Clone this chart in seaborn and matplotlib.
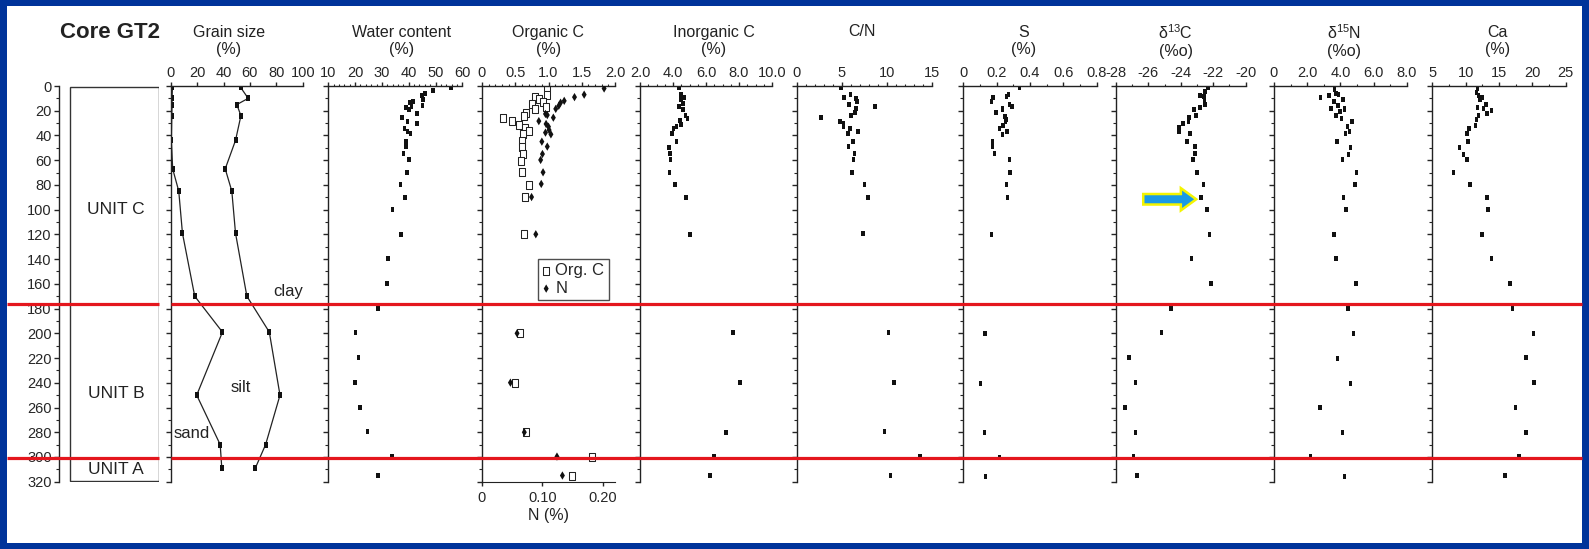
import matplotlib
matplotlib.use("Agg")
import matplotlib.pyplot as plt
import matplotlib.transforms as mtransforms
import seaborn as sns
from matplotlib.lines import Line2D
from matplotlib.markers import MarkerStyle
from matplotlib.patches import Rectangle, FancyArrow
from matplotlib.path import Path
from matplotlib.ticker import MultipleLocator, FixedLocator, FixedFormatter

# ---- data (depth in cm) ----
grain_depth = [1, 10, 15, 24, 44, 67, 85, 119, 170, 199, 250, 290, 309]
sand = [1.3, 1.0, 1.0, 0.8, 0.5, 1.5, 6.1, 8.9, 18.2, 39.2, 19.7, 37.5, 38.7]
sand_silt = [52.9, 58.7, 50.1, 53.2, 49.1, 41.3, 46.3, 49.1, 57.7, 74.7, 82.8, 71.9, 64.1]

water_depth = [1.3, 3.8, 5.9, 7.5, 10.8, 12.4, 13.5, 15.6, 16.7, 17.3, 19.4, 22.1, 25.6, 28.8, 30.7, 34.2,
               36.4, 38.3, 44.7, 49, 54.4, 59.8, 69.8, 79.8, 89.8, 99.7, 119.7, 139.6, 159.8, 179.8, 199.5,
               219.7, 239.9, 259.6, 279.8, 299.7, 314.8]
water = [55.7, 49.0, 46.1, 45.0, 45.4, 41.5, 40.5, 45.2, 41.1, 39.0, 40.0, 43.0, 37.5, 39.5, 43.0, 38.5,
         39.6, 40.6, 39.0, 38.9, 38.1, 40.0, 39.3, 37.0, 38.6, 34.0, 37.1, 32.2, 31.9, 28.5, 20.1,
         21.2, 19.9, 21.9, 24.7, 33.8, 28.5]

orgc_depth = [1.1, 7.3, 9.2, 10.2, 12.7, 14.6, 16.7, 18.6, 22.1, 24.3, 25.9, 28.6, 31.5, 34.2, 36.7, 39.1,
              44.5, 49, 54.7, 60.4, 69.8, 79.8, 89.8, 119.9, 200, 239.9, 280, 300, 315]
orgc = [0.98, 0.98, 0.79, 0.85, 0.91, 0.75, 0.96, 0.79, 0.66, 0.63, 0.31, 0.45, 0.55, 0.65, 0.71, 0.62,
        0.60, 0.60, 0.62, 0.59, 0.60, 0.71, 0.64, 0.63, 0.57, 0.50, 0.66, 1.66, 1.36]

n_depth = [2, 7, 9, 12, 13.5, 16, 18.5, 22.6, 23.5, 25.6, 28.4, 30.7, 32.9, 35.6, 37.7, 39.1, 45, 49, 55,
           59.8, 69.8, 79.2, 89.8, 119.9, 200, 239.9, 280, 299.7, 315]
nitrogen = [0.202, 0.169, 0.153, 0.136, 0.130, 0.127, 0.122, 0.105, 0.108, 0.118, 0.094, 0.106, 0.110,
            0.111, 0.105, 0.114, 0.099, 0.108, 0.100, 0.097, 0.101, 0.098, 0.082, 0.089, 0.058, 0.047,
            0.070, 0.124, 0.133]

inorg_depth = [1.3, 6.7, 9.2, 11.3, 14, 16.7, 18.9, 23.5, 25.9, 28.3, 31.3, 32.9, 34.5, 38.8, 45, 49.6,
               54.7, 59.8, 69.8, 79.8, 89.8, 119.7, 199.7, 239.9, 280, 299.7, 315]
inorg = [4.38, 4.47, 4.67, 4.48, 4.61, 4.38, 4.61, 4.75, 4.89, 4.44, 4.50, 4.22, 4.02, 3.94, 4.22, 3.74,
         3.82, 3.86, 3.78, 4.12, 4.79, 5.03, 7.62, 8.06, 7.21, 6.50, 6.24]

cn_depth = [1.3, 6.7, 8.9, 10.2, 12.7, 14.8, 16.4, 18.3, 21.8, 23.7, 25.3, 28.6, 30.5, 32.9, 34.5, 36.7,
            38.5, 44.7, 49.3, 54.4, 59.6, 69.8, 79.8, 89.8, 119.4, 199.5, 239.9, 279.8, 299.7, 314.8]
cn = [4.92, 5.96, 5.26, 6.56, 6.67, 5.81, 8.67, 6.56, 6.48, 6.03, 2.67, 4.81, 5.18, 5.22, 5.89, 6.81,
      5.70, 6.26, 5.74, 6.41, 6.33, 6.15, 7.52, 7.93, 7.34, 10.18, 10.81, 9.74, 13.67, 10.44]

s_depth = [1.3, 6.7, 8.6, 9.2, 12.7, 14.8, 16.7, 18.6, 21.6, 24.3, 26.7, 29.1, 32.1, 34.5, 36.9, 39.1,
           44.5, 49, 54.7, 59.8, 69.8, 79.8, 90, 119.7, 200, 240.4, 280.3, 300.3, 315.4]
sulfur = [0.336, 0.272, 0.260, 0.178, 0.168, 0.276, 0.292, 0.234, 0.196, 0.250, 0.256, 0.252, 0.238,
          0.218, 0.262, 0.234, 0.174, 0.176, 0.186, 0.276, 0.280, 0.260, 0.266, 0.170, 0.130, 0.104,
          0.128, 0.218, 0.134]

d13c_depth = [1.3, 4.6, 7.3, 8.6, 11.3, 14.6, 17.3, 19.4, 23.7, 25.3, 28.6, 30.7, 33.4, 36.4, 38.8, 44.7,
              49.3, 54.7, 59.8, 69.8, 79.8, 90, 99.7, 119.9, 139.6, 159.8, 179.8, 199.7, 219.9, 239.9,
              259.8, 280, 300, 315]
d13c = [-22.31, -22.51, -22.82, -22.59, -22.53, -22.51, -22.82, -23.19, -23.06, -23.50, -23.52, -23.87,
        -24.11, -24.10, -23.42, -23.62, -23.13, -23.13, -23.25, -23.02, -22.61, -22.76, -22.37, -22.24,
        -23.35, -22.14, -24.61, -25.20, -27.18, -26.79, -27.43, -26.79, -26.91, -26.72]

d15n_depth = [3.2, 5.9, 7.0, 7.5, 9.2, 11.3, 12.7, 15.4, 17.8, 18.6, 21, 23.7, 25.9, 28.8, 32.9, 36.7,
              38.8, 44.7, 49.6, 55, 59.8, 69.8, 79.8, 90, 100, 119.9, 139.9, 160.1, 180, 200, 220.2,
              240.4, 260.1, 280.3, 300, 315.4]
d15n = [3.64, 3.74, 3.90, 3.32, 2.81, 4.16, 3.62, 3.86, 3.42, 4.26, 3.98, 3.74, 4.08, 4.72, 4.44, 4.56,
        4.32, 3.80, 4.62, 4.50, 4.12, 4.98, 4.88, 4.18, 4.34, 3.62, 3.74, 4.94, 4.46, 4.80, 3.82,
        4.62, 2.77, 4.12, 2.19, 4.24]

ca_depth = [1.9, 5.4, 7.3, 9.2, 11.3, 14.8, 17.3, 18.1, 19.9, 22.1, 24, 26.7, 32.3, 34.5, 38.3, 44.7,
            49.6, 55, 59.8, 69.8, 79.8, 90, 100, 119.9, 139.9, 160.1, 180, 200, 219.7, 239.9, 259.8,
            280, 299.7, 315]
ca = [11.75, 11.60, 11.95, 12.45, 12.15, 13.05, 11.75, 12.65, 13.85, 13.16, 11.90, 11.60, 11.45, 10.50,
      10.20, 10.31, 9.05, 9.65, 10.20, 8.15, 10.61, 13.16, 13.35, 12.45, 13.90, 16.65, 17.05, 20.20,
      19.05, 20.29, 17.50, 19.09, 18.0, 15.90]

unit_bounds = [176.5, 300.5]
unit_names = ["UNIT C", "UNIT B", "UNIT A"]
unit_label_depth = [100, 249, 310]

# ---- style ----
sns.set_style("ticks")
plt.rcParams['font.family'] = ['Liberation Sans', 'DejaVu Sans']
plt.rcParams['mathtext.fontset'] = 'custom'
plt.rcParams['mathtext.rm'] = 'Liberation Sans'
plt.rcParams['mathtext.it'] = 'Liberation Sans'

W, H = 1589, 549
TOP, BOT = 86, 481.7
INK = '#222222'
fig = plt.figure(figsize=(W / 100, H / 100), dpi=100)
fig.patch.set_facecolor('#00339a')
fig.add_artist(Rectangle((7 / W, 6 / H), (1582 - 7) / W, (543 - 6) / H, transform=fig.transFigure,
                         facecolor='white', edgecolor='none', zorder=-5))

rect = MarkerStyle(Path([(-0.36, -0.5), (0.36, -0.5), (0.36, 0.5), (-0.36, 0.5), (-0.36, -0.5)], closed=True))


def make_ax(x0, x1):
    ax = fig.add_axes([x0 / W, 1 - BOT / H, (x1 - x0) / W, (BOT - TOP) / H])
    ax.set_facecolor('none')
    ax.set_ylim(320, 0)
    for sp in ['right', 'bottom']:
        ax.spines[sp].set_visible(False)
    for sp in ['left', 'top']:
        ax.spines[sp].set_linewidth(1.0)
        ax.spines[sp].set_color(INK)
    ax.yaxis.set_major_locator(MultipleLocator(20))
    ax.yaxis.set_minor_locator(MultipleLocator(10))
    ax.tick_params(axis='y', which='major', direction='out', length=3.5, width=1, labelleft=False)
    ax.tick_params(axis='y', which='minor', direction='out', length=2, width=0.8)
    return ax


def top_axis(ax, lim, ticks, labels, minor):
    ax.set_xlim(*lim)
    ax.xaxis.tick_top()
    ax.xaxis.set_major_locator(FixedLocator(ticks))
    ax.xaxis.set_major_formatter(FixedFormatter(labels))
    ax.xaxis.set_minor_locator(MultipleLocator(minor))
    ax.tick_params(axis='x', which='major', direction='out', length=3, width=1, labelsize=10.5, pad=1.5,
                   top=True, bottom=False, labeltop=True, labelbottom=False)
    ax.tick_params(axis='x', which='minor', direction='out', length=1.8, width=0.8, top=True, bottom=False)


def title(ax, text, cx=0.5):
    ax.text(cx, 1.114, text, transform=ax.transAxes, ha='center', va='center', fontsize=11.5,
            linespacing=1.15, color=INK)


def dots(ax, x, y):
    sns.scatterplot(x=x, y=y, ax=ax, marker=rect, s=13, color='#111111', edgecolor='none', linewidth=0)
    ax.set_xlabel('')
    ax.set_ylabel('')


# depth column with units
axd = make_ax(59.3, 159.3)
axd.spines['top'].set_visible(False)
axd.set_xlim(0, 1)
axd.set_xticks([])
axd.yaxis.set_major_locator(FixedLocator(list(range(0, 321, 20))))
axd.tick_params(axis='y', which='major', labelleft=True, labelsize=10.5, pad=2, length=3.5)
axd.add_patch(Rectangle((0.104, 0.8), 0.896, 318.5, facecolor='none', edgecolor='#333333', lw=1.0))
for name, dep in zip(unit_names, unit_label_depth):
    axd.text(0.567, dep, name, ha='center', va='center', fontsize=12.5, color=INK)
fig.text(110 / W, 1 - 32 / H, "Core GT2", ha='center', va='center', fontsize=16, fontweight='bold',
         color=INK)

# grain size
ax = make_ax(170.7, 302.7)
top_axis(ax, (0, 100), [0, 20, 40, 60, 80, 100], ['0', '20', '40', '60', '80', '100'], 20)
for series in [sand, sand_silt]:
    sns.lineplot(x=series, y=grain_depth, ax=ax, sort=False, estimator=None, color=INK, lw=0.9,
                 marker=rect, markersize=4.3, markeredgewidth=0, markerfacecolor='#111111')
ax.set_xlabel('')
ax.set_ylabel('')
ax.text(89, 166, "clay", ha='center', va='center', fontsize=12, color=INK)
ax.text(53, 244, "silt", ha='center', va='center', fontsize=12, color=INK)
ax.text(16, 281, "sand", ha='center', va='center', fontsize=12, color=INK)
title(ax, "Grain size\n(%)", 0.44)

# water content
ax = make_ax(328.3, 462.3)
top_axis(ax, (10, 60), [10, 20, 30, 40, 50, 60], ['10', '20', '30', '40', '50', '60'], 2)
dots(ax, water, water_depth)
title(ax, "Water content\n(%)", 0.55)

# organic C (top axis) and N (bottom axis)
ax = make_ax(482, 615)
ax2 = ax.twiny()
top_axis(ax, (0, 2), [0, 0.5, 1.0, 1.5, 2.0], ['0', '0.5', '1.0', '1.5', '2.0'], 0.1)
sns.scatterplot(x=orgc, y=orgc_depth, ax=ax, marker=rect, s=28, color='white', edgecolor=INK,
                linewidth=0.75, legend=False)
ax.set_xlabel('')
ax.set_ylabel('')
ax2.set_facecolor('none')
ax2.set_xlim(0, 0.22)
for sp in ['top', 'left', 'right']:
    ax2.spines[sp].set_visible(False)
ax2.spines['bottom'].set_visible(True)
ax2.spines['bottom'].set_color(INK)
ax2.xaxis.set_ticks_position('bottom')
ax2.xaxis.set_label_position('bottom')
ax2.xaxis.set_major_locator(FixedLocator([0, 0.10, 0.20]))
ax2.xaxis.set_major_formatter(FixedFormatter(['0', '0.10', '0.20']))
ax2.xaxis.set_minor_locator(FixedLocator([]))
ax2.tick_params(axis='x', direction='out', length=3, width=1, labelsize=10.5, pad=4, top=False,
                bottom=True, labeltop=False, labelbottom=True)
sns.scatterplot(x=nitrogen, y=n_depth, ax=ax2, marker='d', s=18, color='#111111', edgecolor='none',
                linewidth=0, legend=False)
ax2.set_ylim(320, 0)
ax2.set_xlabel("N (%)", fontsize=11.5, labelpad=2, color=INK)
ax2.set_ylabel('')
leg = ax2.legend(handles=[ax.collections[0], ax2.collections[0]], labels=['Org. C', 'N'],
                 loc='upper left', bbox_to_anchor=(0.42, 0.562), frameon=True, fancybox=False,
                 fontsize=12, handlelength=0.5, handletextpad=0.3, borderpad=0.25, labelspacing=0.15,
                 borderaxespad=0)
leg.get_frame().set_edgecolor(INK)
leg.get_frame().set_linewidth(1.0)
title(ax, "Organic C\n(%)")

# inorganic C
ax = make_ax(640, 772)
top_axis(ax, (2, 10), [2, 4, 6, 8, 10], ['2.0', '4.0', '6.0', '8.0', '10.0'], 0.5)
dots(ax, inorg, inorg_depth)
title(ax, "Inorganic C\n(%)", 0.56)

# C/N
ax = make_ax(796.7, 931.7)
top_axis(ax, (0, 15), [0, 5, 10, 15], ['0', '5', '10', '15'], 1)
dots(ax, cn, cn_depth)
ax.text(0.48, 1.1365, "C/N", transform=ax.transAxes, ha='center', va='center', fontsize=11.5, color=INK)

# S
ax = make_ax(963.3, 1096.7)
top_axis(ax, (0, 0.8), [0, 0.2, 0.4, 0.6, 0.8], ['0', '0.2', '0.4', '0.6', '0.8'], 0.1)
dots(ax, sulfur, s_depth)
title(ax, "S\n(%)", 0.45)

# d13C
ax = make_ax(1116, 1245.7)
top_axis(ax, (-28, -20), [-28, -26, -24, -22, -20], ['-28', '-26', '-24', '-22', '-20'], 1)
dots(ax, d13c, d13c_depth)
ax.add_patch(FancyArrow(-26.32, 91.6, 3.27, 0, width=8.5, head_width=18, head_length=0.95,
                        length_includes_head=True, facecolor='#1a9ae6', edgecolor='#f4f400', lw=1.8,
                        zorder=5))
title(ax, "δ$^{13}$C\n(%o)", 0.46)

# d15N
ax = make_ax(1274, 1406.7)
top_axis(ax, (0, 8), [0, 2, 4, 6, 8], ['0', '2.0', '4.0', '6.0', '8.0'], 1)
dots(ax, d15n, d15n_depth)
title(ax, "δ$^{15}$N\n(%o)", 0.53)

# Ca
ax = make_ax(1432.3, 1565.7)
top_axis(ax, (5, 25), [5, 10, 15, 20, 25], ['5', '10', '15', '20', '25'], 2.5)
dots(ax, ca, ca_depth)
title(ax, "Ca\n(%)", 0.49)

# unit boundaries across the whole figure
blend = mtransforms.blended_transform_factory(fig.transFigure, axd.transData)
for b in unit_bounds:
    for xa, xb in [(7, 159.3), (170.7, 1582)]:
        fig.add_artist(Line2D([xa / W, xb / W], [b, b], transform=blend, color='#e4161d', lw=2.3,
                              solid_capstyle='butt', zorder=10))

fig.savefig("out.png", dpi=100, facecolor=fig.get_facecolor())
